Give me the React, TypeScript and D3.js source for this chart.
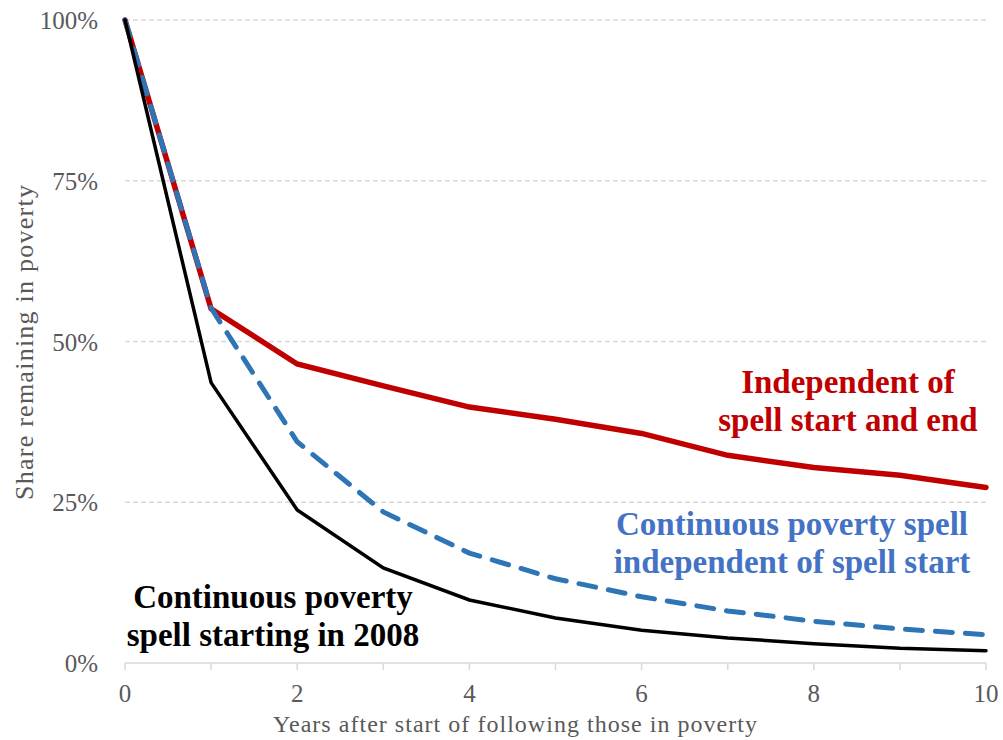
import React, { useEffect, useRef } from "react";
import * as d3 from "d3";

const WIDTH = 1003;
const HEIGHT = 740;
const MARGIN = { top: 20, right: 17, bottom: 77, left: 125 };

const years = [0, 1, 2, 3, 4, 5, 6, 7, 8, 9, 10];
const independent = [100, 55.1, 46.5, 43.1, 39.8, 37.9, 35.7, 32.3, 30.4, 29.2, 27.3];
const continuousAny = [100, 55.2, 34.4, 23.5, 17.1, 13.1, 10.3, 8.1, 6.5, 5.3, 4.4];
const continuous2008 = [100, 43.6, 23.8, 14.8, 9.8, 7.0, 5.1, 3.9, 3.0, 2.3, 1.9];
const yTicks = [0, 25, 50, 75, 100];
const xLabels = [0, 2, 4, 6, 8, 10];

const FONT = "serif";

export default function App() {
  const gRef = useRef<SVGGElement>(null);

  useEffect(() => {
    const g = d3.select(gRef.current);
    g.selectAll("*").remove();
    const innerW = WIDTH - MARGIN.left - MARGIN.right;
    const innerH = HEIGHT - MARGIN.top - MARGIN.bottom;

    const x = d3.scaleLinear().domain([0, 10]).range([0, innerW]);
    const y = d3.scaleLinear().domain([0, 100]).range([innerH, 0]);

    // grid
    g.append("g")
      .selectAll("line")
      .data(yTicks.filter((t) => t > 0))
      .join("line")
      .attr("x1", 0)
      .attr("x2", innerW)
      .attr("y1", (d) => y(d))
      .attr("y2", (d) => y(d))
      .attr("stroke", "#d9d9d9")
      .attr("stroke-width", 1.3)
      .attr("stroke-dasharray", "5 3");

    // y labels
    g.append("g")
      .selectAll("text")
      .data(yTicks)
      .join("text")
      .attr("x", -27)
      .attr("y", (d) => y(d) + 9)
      .attr("text-anchor", "end")
      .attr("font-family", FONT)
      .attr("font-size", 25)
      .attr("fill", "#595959")
      .text((d) => d + "%");

    // x axis
    const xAxis = g.append("g").attr("transform", `translate(0,${innerH})`);
    xAxis
      .append("line")
      .attr("x1", 0)
      .attr("x2", innerW)
      .attr("stroke", "#d9d9d9")
      .attr("stroke-width", 1.5);
    xAxis
      .selectAll("line.tick")
      .data(years)
      .join("line")
      .attr("class", "tick")
      .attr("x1", (d) => x(d))
      .attr("x2", (d) => x(d))
      .attr("y1", 0)
      .attr("y2", 7)
      .attr("stroke", "#d9d9d9")
      .attr("stroke-width", 1.5);
    xAxis
      .selectAll("text")
      .data(xLabels)
      .join("text")
      .attr("x", (d) => x(d))
      .attr("y", 39)
      .attr("text-anchor", "middle")
      .attr("font-family", FONT)
      .attr("font-size", 25)
      .attr("fill", "#595959")
      .text((d) => d);

    // lines
    const line = d3
      .line<number>()
      .x((_, i) => x(years[i]))
      .y((d) => y(d));

    g.append("path")
      .attr("d", line(independent))
      .attr("fill", "none")
      .attr("stroke", "#c00000")
      .attr("stroke-width", 5.5)
      .attr("stroke-linecap", "round");
    g.append("path")
      .attr("d", line(continuousAny))
      .attr("fill", "none")
      .attr("stroke", "#2e75b6")
      .attr("stroke-width", 5)
      .attr("stroke-dasharray", "17 13")
      .attr("stroke-linecap", "round");
    g.append("path")
      .attr("d", line(continuous2008))
      .attr("fill", "none")
      .attr("stroke", "#000")
      .attr("stroke-width", 3.5)
      .attr("stroke-linecap", "round");

    // axis titles
    g.append("text")
      .attr("x", 273 - MARGIN.left)
      .attr("y", 732 - MARGIN.top)
      .attr("textLength", 484)
      .attr("lengthAdjust", "spacing")
      .attr("font-family", FONT)
      .attr("font-size", 24)
      .attr("fill", "#595959")
      .text("Years after start of following those in poverty");
    g.append("text")
      .attr("transform", `translate(${33 - MARGIN.left},${500 - MARGIN.top}) rotate(-90)`)
      .attr("textLength", 315)
      .attr("lengthAdjust", "spacing")
      .attr("font-family", FONT)
      .attr("font-size", 26)
      .attr("fill", "#595959")
      .text("Share remaining in poverty");

    // series labels
    const labels = [
      { lines: ["Independent of", "spell start and end"], cx: 848, y0: 393, color: "#c00000" },
      { lines: ["Continuous poverty spell", "independent of spell start"], cx: 792, y0: 535, color: "#4472c4" },
      { lines: ["Continuous poverty", "spell starting in 2008"], cx: 273, y0: 608, color: "#000" },
    ];
    labels.forEach((l) => {
      l.lines.forEach((t, i) => {
        g.append("text")
          .attr("x", l.cx - MARGIN.left)
          .attr("y", l.y0 + i * 37.5 - MARGIN.top)
          .attr("text-anchor", "middle")
          .attr("font-family", FONT)
          .attr("font-size", 33)
          .attr("font-weight", "bold")
          .attr("fill", l.color)
          .text(t);
      });
    });
  }, []);

  return (
    <svg
      width={WIDTH}
      height={HEIGHT}
      style={{ position: "absolute", left: 0, top: 0, background: "#fff" }}
    >
      <g ref={gRef} transform={`translate(${MARGIN.left},${MARGIN.top})`} />
    </svg>
  );
}
